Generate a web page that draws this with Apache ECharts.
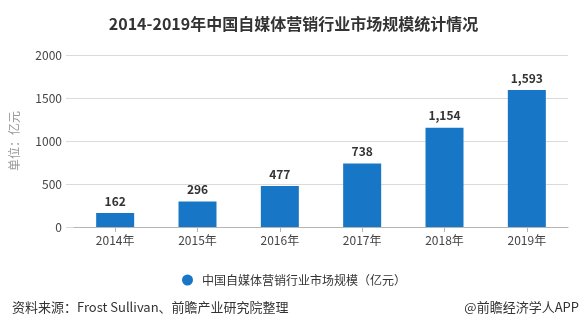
<!DOCTYPE html>
<html>
<head>
<meta charset="utf-8">
<script src="https://cdn.jsdelivr.net/npm/echarts@6/dist/echarts.min.js"></script>
<style>
html,body{margin:0;padding:0;background:#fff;}
#chart{width:587px;height:326px;}
</style>
</head>
<body>
<div id="chart"></div>
<script>
// Market size of China's self-media marketing industry, 2014-2019 (100 million yuan)
const years = ['2014年', '2015年', '2016年', '2017年', '2018年', '2019年'];
const marketSize = [162, 296, 477, 738, 1154, 1593];
const yTicks = [0, 500, 1000, 1500, 2000];
const seriesName = '中国自媒体营销行业市场规模（亿元）';

const FONT = '"Noto Sans CJK SC", "Noto Sans", sans-serif';
const yMin = yTicks[0];
const yMax = yTicks[yTicks.length - 1];
const yStep = yTicks[1] - yTicks[0];

const chart = echarts.init(document.getElementById('chart'));

chart.setOption({
  backgroundColor: '#fff',
  textStyle: { fontFamily: FONT },
  title: [
    {
      text: '2014-2019年中国自媒体营销行业市场规模统计情况',
      left: 'center', top: 11,
      textStyle: { fontFamily: FONT, fontSize: 16, fontWeight: 'bold', color: '#333' }
    },
    {
      text: '资料来源：Frost Sullivan、前瞻产业研究院整理',
      left: 7, top: 296,
      textStyle: { fontFamily: FONT, fontSize: 13, fontWeight: 'normal', color: '#333' }
    },
    {
      text: '@前瞻经济学人APP',
      right: 3, top: 296,
      textStyle: { fontFamily: FONT, fontSize: 13, fontWeight: 'normal', color: '#333' }
    }
  ],
  legend: {
    data: [seriesName],
    left: 177, top: 269,
    icon: 'circle', itemWidth: 11, itemHeight: 11,
    textStyle: { fontFamily: FONT, fontSize: 12, color: '#333', padding: [0, 0, 0, 4] }
  },
  // grid 0 carries the value scale and gridlines; grid 1 carries the bars
  grid: [
    { left: 63, right: 19, top: 55, bottom: 99 },
    { left: 74, right: 19, top: 55, bottom: 99 }
  ],
  xAxis: [
    { type: 'category', gridIndex: 0, data: years, show: false },
    {
      type: 'category', gridIndex: 1,
      data: years,
      axisLine: { lineStyle: { color: '#b5b5b5' } },
      axisTick: { show: true, alignWithLabel: true, lineStyle: { color: '#b5b5b5' } },
      axisLabel: { fontFamily: FONT, fontSize: 12, color: '#444', margin: 7 }
    }
  ],
  yAxis: [
    {
      type: 'value', gridIndex: 0,
      min: yMin, max: yMax, interval: yStep,
      name: '单位：亿元',
      nameLocation: 'middle', nameGap: 46, nameRotate: 90,
      nameMoveOverlap: false,
      nameTextStyle: { fontFamily: FONT, fontSize: 12, color: '#999' },
      axisLine: { show: false },
      axisTick: { show: false },
      axisLabel: { fontFamily: FONT, fontSize: 12, color: '#444', margin: 4, formatter: v => String(v) },
      splitLine: { lineStyle: { color: '#dadada' } }
    },
    {
      type: 'value', gridIndex: 1,
      min: yMin, max: yMax, interval: yStep,
      axisLine: { show: false }, axisTick: { show: false },
      axisLabel: { show: false }, splitLine: { show: false }
    }
  ],
  series: [{
    name: seriesName,
    type: 'bar',
    xAxisIndex: 1, yAxisIndex: 1,
    data: marketSize,
    barWidth: 38,
    itemStyle: { color: '#1876c6' },
    label: {
      show: true, position: 'top', distance: 6,
      fontFamily: FONT, fontSize: 12, fontWeight: 'bold', color: '#333',
      formatter: p => p.value.toLocaleString('en-US')
    }
  }]
});
</script>
</body>
</html>
